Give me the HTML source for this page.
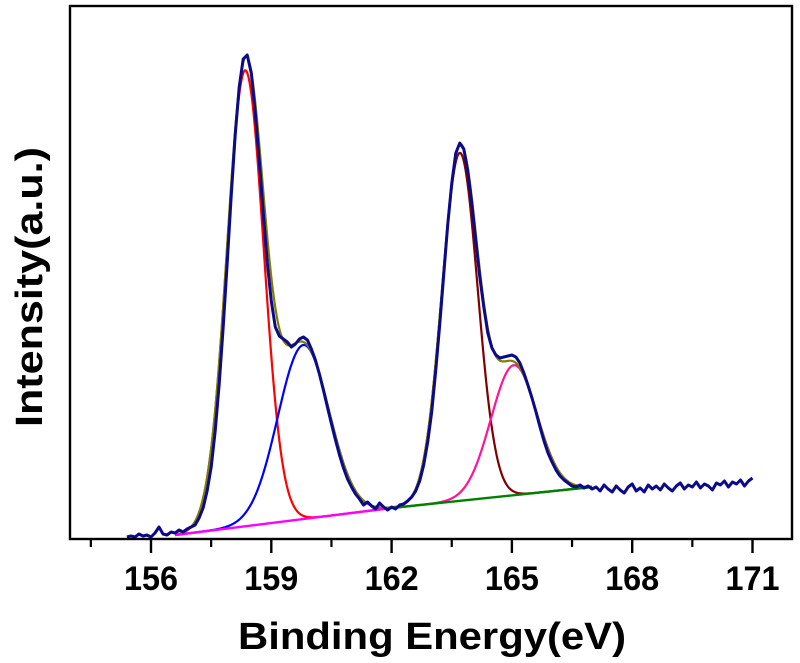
<!DOCTYPE html>
<html><head><meta charset="utf-8"><style>
html,body{margin:0;padding:0;background:#fff;}
svg{display:block;font-family:"Liberation Sans",Arial,sans-serif;}
</style></head><body>
<svg id="chart" width="800" height="663" viewBox="0 0 800 663" xmlns="http://www.w3.org/2000/svg">
<g id="curves"></g>
<rect x="70" y="6" width="722" height="533" fill="none" stroke="#000" stroke-width="2.4"/>
<g id="axis"></g>
<text x="432" y="649" text-anchor="middle" font-size="38" font-weight="bold" textLength="388" lengthAdjust="spacingAndGlyphs">Binding Energy(eV)</text>
<text transform="translate(42,287) rotate(-90)" text-anchor="middle" font-size="38" font-weight="bold" textLength="280" lengthAdjust="spacingAndGlyphs">Intensity(a.u.)</text>
</svg>
<script>
// measured spectrum, 0.1 eV steps starting at 155.4 eV (intensity a.u.)
const energyStart = 155.4;
const energyStep = 0.1;
const measured = [2,3,2,5,3,4,2,6,12,5,4,7,
6,9,7,10,12,
14,21,31,48,72,108,155,212,276,343,
404,452,480,484,466,426,378,326,276,238,
212,203,200,197,192,195,200,202,199,190,
179,165,149,132,115,99,84,71,60,52,
45,40,34,37,33,30,36,32,29,32,
30,34,35,38,42,48,58,74,97,127,
168,214,264,314,356,386,396,390,368,336,
298,262,232,206,191,184,181,182,183,184,
182,176,166,154,141,127,112,98,86,77,
69,63,59,56,53,52,54,51,53,50,
52,48,54,50,47,53,49,46,52,55,48,51,47,54,50,53,49,55,51,48,53,56,50,54,52,57,51,55,53,49,56,54,58,52,57,55,59,53,58,61];
// fitted peaks
const peakCenters = [158.35, 159.8, 163.7, 165.05];
const peakAmps = [456, 174, 348, 130];
const peakFwhm = [1.08, 1.5, 1.05, 1.35];
const peakColors = ['#ff0000', '#0000ff', '#800000', '#ff1493'];
const peakNames = ['peak-s2p3-158', 'peak-s2p1-159', 'peak-s2p3-163', 'peak-s2p1-165'];
const peakSegment = [0, 0, 1, 1];
// linear backgrounds
const bgStartE = [156.6, 162.0];
const bgEndE = [162.0, 167.0];
const bgStartI = [4, 31];
const bgEndI = [31, 52];
const bgColors = ['#ff00ff', '#008000'];
const majorTicks = [156, 159, 162, 165, 168, 171];
const minorTicks = [154.5, 157.5, 160.5, 163.5, 166.5, 169.5];

const NS = 'http://www.w3.org/2000/svg';
const xS = e => 151 + (e - 156) * 40.1;
const yS = v => 539 - v;
function bgAt(s, e) { return bgStartI[s] + (e - bgStartE[s]) * (bgEndI[s] - bgStartI[s]) / (bgEndE[s] - bgStartE[s]); }
function gauss(i, e) { const sg = peakFwhm[i] / 2.3548; const d = e - peakCenters[i]; return peakAmps[i] * Math.exp(-d * d / (2 * sg * sg)); }
function segOf(e) { return e < bgEndE[0] ? 0 : 1; }
const g = document.getElementById('curves');
function addPath(pts, color, w, name) {
  const p = document.createElementNS(NS, 'path');
  p.setAttribute('d', pts.map((q, k) => (k ? 'L' : 'M') + q[0].toFixed(1) + ',' + q[1].toFixed(1)).join(''));
  p.setAttribute('fill', 'none'); p.setAttribute('stroke', color); p.setAttribute('stroke-width', w);
  p.setAttribute('stroke-linejoin', 'round');
  
  
  g.appendChild(p);
}
peakCenters.forEach((c, i) => {
  const s = peakSegment[i]; const pts = [];
  for (let e = bgStartE[s]; e <= bgEndE[s] + 1e-9; e += 0.02) pts.push([xS(e), yS(bgAt(s, e) + gauss(i, e))]);
  addPath(pts, peakColors[i], 2.2, peakNames[i]);
});
(function () {
  const pts = [];
  for (let e = bgStartE[0]; e <= bgEndE[1] + 1e-9; e += 0.02) {
    const s = segOf(e); let v = bgAt(s, e);
    peakCenters.forEach((c, i) => { v += gauss(i, e); });
    pts.push([xS(e), yS(v)]);
  }
  addPath(pts, '#808000', 2.2, 'fit-envelope');
})();
bgStartE.forEach((s, k) => addPath([[xS(bgStartE[k]), yS(bgStartI[k])], [xS(bgEndE[k]), yS(bgEndI[k])]], bgColors[k], 2.4, 'background-' + k));
addPath(measured.map((v, k) => [xS(energyStart + k * energyStep), yS(v)]), '#0a0a8a', 3, 'measured-spectrum');
const ax = document.getElementById('axis');
majorTicks.forEach(t => {
  const l = document.createElementNS(NS, 'line');
  l.setAttribute('x1', xS(t)); l.setAttribute('x2', xS(t)); l.setAttribute('y1', 539); l.setAttribute('y2', 553);
  l.setAttribute('stroke', '#000'); l.setAttribute('stroke-width', 2.4);
  
  
  ax.appendChild(l);
  const tx = document.createElementNS(NS, 'text');
  tx.setAttribute('x', xS(t)); tx.setAttribute('y', 590); tx.setAttribute('text-anchor', 'middle');
  tx.setAttribute('font-size', '34'); tx.setAttribute('font-weight', 'bold');
  tx.setAttribute('textLength', '54'); tx.setAttribute('lengthAdjust', 'spacingAndGlyphs');
  tx.textContent = t;
  
  
  ax.appendChild(tx);
});
minorTicks.forEach(t => {
  const l = document.createElementNS(NS, 'line');
  l.setAttribute('x1', xS(t)); l.setAttribute('x2', xS(t)); l.setAttribute('y1', 539); l.setAttribute('y2', 547);
  l.setAttribute('stroke', '#000'); l.setAttribute('stroke-width', 2.2);
  
  
  ax.appendChild(l);
});
</script>
</body></html>
